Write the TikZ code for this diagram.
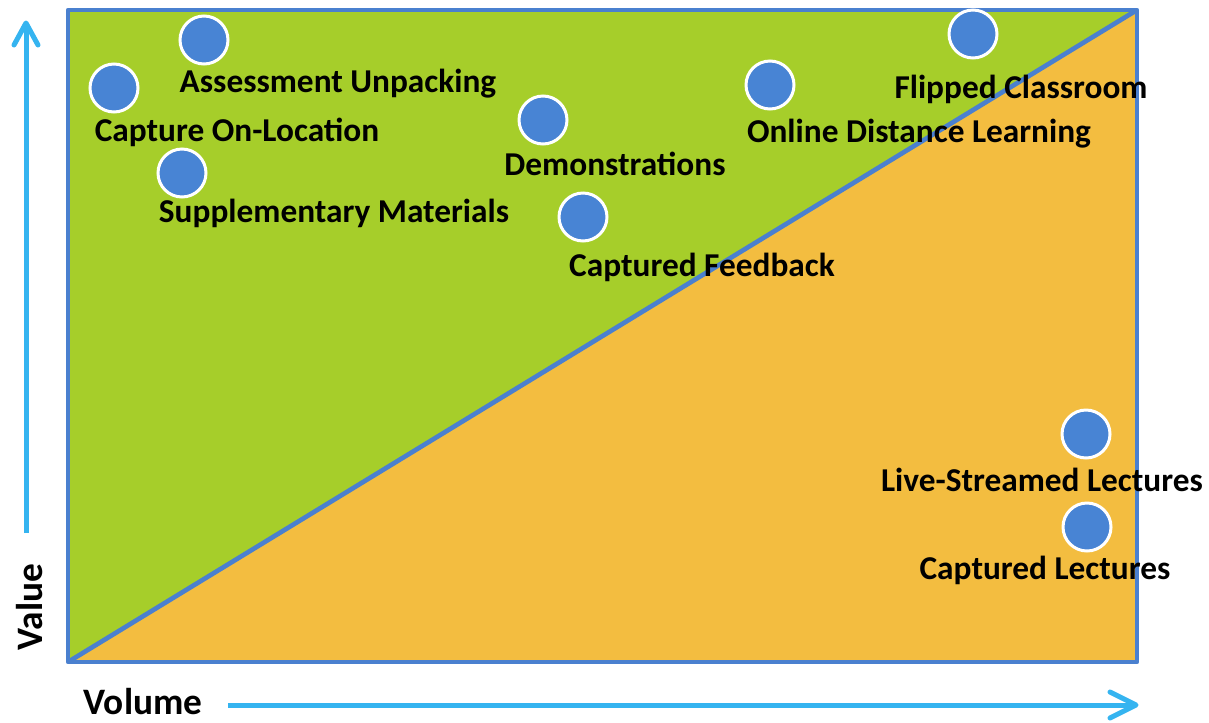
\documentclass[tikz,border=0pt]{standalone}
\usepackage{fontspec}
\setmainfont{Carlito}
\definecolor{fieldgreen}{RGB}{166,206,42}
\definecolor{fieldorange}{RGB}{243,189,64}
\definecolor{frameblue}{RGB}{74,128,207}
\definecolor{dotblue}{RGB}{72,132,212}
\definecolor{axisblue}{RGB}{53,180,240}

\tikzset{every picture/.style={line width=0.75pt}}
\tikzset{
  dot/.style={circle, fill=dotblue, draw=white, line width=2.25pt, minimum size=36pt, inner sep=0pt},
  lbl/.style={font=\fontsize{25}{30}\selectfont\bfseries, inner sep=0pt},
  axislbl/.style={font=\fontsize{28}{33}\selectfont\bfseries, inner sep=0pt},
  axis/.style={draw=axisblue, line width=3.75pt},
}

\begin{document}
\begin{tikzpicture}[x=0.75pt,y=0.75pt,yscale=-1,xscale=1]
\useasboundingbox (0,0) rectangle (1209,722);

\fill [fieldgreen] (68,662) -- (68,10) -- (1137,10) -- cycle ;
\fill [fieldorange] (68,662) -- (1137,10) -- (1137,662) -- cycle ;
\draw [frameblue, line width=3.5pt, line join=round] (68,10) rectangle (1137,662) ;
\draw [frameblue, line width=3.5pt] (68,662) -- (1137,10) ;


\coordinate (vbot) at (26,533);
\coordinate (vtop) at (26,23);
\draw [axis] (vbot) -- (vtop) ;
\draw [axis, shift={(vtop)}, line join=round, line cap=round] (-12,22) -- (0,0) -- (12,22) ;

\coordinate (hleft) at (228,705);
\coordinate (hright) at (1136,705);
\draw [axis] (hleft) -- (hright) ;
\draw [axis, shift={(hright)}, line join=round, line cap=round] (-26,-13) -- (0,0) -- (-26,13) ;


\node [dot] (assess) at (204,40) {};
\node [dot] (caploc) at (114,88) {};
\node [dot] (suppl) at (182,173) {};
\node [dot] (demo) at (543,120) {};
\node [dot] (feedb) at (583,217) {};
\node [dot] (online) at (770,85) {};
\node [dot] (flip) at (973,34) {};
\node [dot] (live) at (1086,434) {};
\node [dot] (caplec) at (1087,527) {};


\node [lbl] (assesslbl) at (338,84) {Assessment Unpacking};
\node [lbl] (caploclbl) at (237,132) {Capture On-Location};
\node [lbl] (suppllbl) at (334,213) {Supplementary Materials};
\node [lbl] (demolbl) at (615,164) {Demonstrations};
\node [lbl] (feedblbl) at (702,267) {Captured Feedback};
\node [lbl] (onlinelbl) at (919,134) {Online Distance Learning};
\node [lbl] (fliplbl) at (1021,89) {Flipped Classroom};
\node [lbl] (livelbl) at (1042,480) {Live-Streamed Lectures};
\node [lbl] (caplecbl) at (1045,570) {Captured Lectures};
\node [axislbl, rotate=90] (valuelbl) at (30,607) {Value};
\node [axislbl] (volumelbl) at (143,702) {Volume};

\end{tikzpicture}
\end{document}
